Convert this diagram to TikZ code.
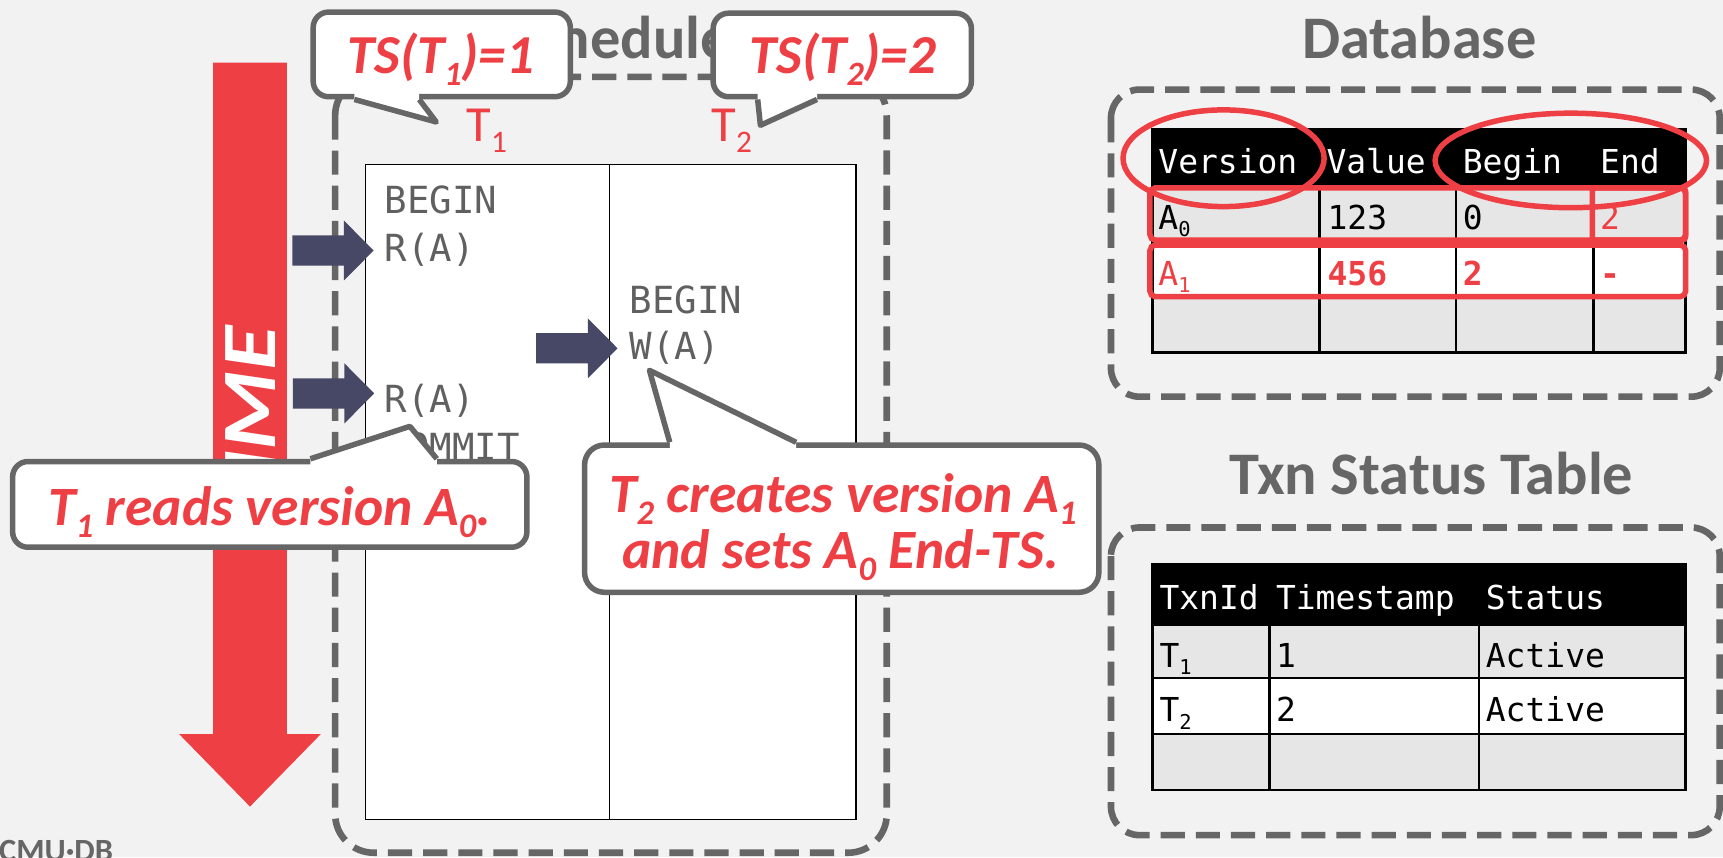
\documentclass[tikz,border=0pt]{standalone}
\usepackage{graphicx}
\usepackage{fontspec}
\setmainfont{Carlito}
\newfontfamily\codefont{DejaVu Sans Mono}
\usetikzlibrary{calc}

\definecolor{bg}{HTML}{F2F2F2}
\definecolor{cmured}{HTML}{EE3F44}
\definecolor{frame}{HTML}{666666}
\definecolor{navy}{HTML}{464866}
\definecolor{rowgray}{HTML}{E6E6E6}
\definecolor{opgray}{HTML}{606060}

% lowered, shrunken subscript
\newcommand\dsub[1]{\raisebox{-0.22em}{\scalebox{0.62}{#1}}}

\tikzset{
  dashbox/.style={draw=frame, line width=6, dash pattern=on 22 off 10},
  sectitle/.style={text=frame, font=\bfseries\fontsize{55}{60}\selectfont, inner sep=0, anchor=base},
  opline/.style={text=opgray, font=\codefont\fontsize{34}{40}\selectfont, inner sep=0, anchor=base west},
  dbcell/.style={font=\codefont\fontsize{30}{34}\selectfont, inner sep=0, anchor=base west},
  collabel/.style={text=cmured, font=\fontsize{46}{50}\selectfont, inner sep=0, anchor=base},
  callbox/.style={draw=frame, line width=5, fill=white, rounded corners=14, inner sep=0},
  calltext/.style={text=cmured, font=\bfseries\itshape\fontsize{50.5}{54}\selectfont, inner sep=0, anchor=base},
  tstext/.style={calltext, font=\bfseries\itshape\fontsize{50}{54}\selectfont},
  callline/.style={draw=frame, line width=5, line join=round},
  redhl/.style={draw=cmured, line width=5},
  gridline/.style={draw=black, line width=2.5},
  colbox/.style={draw=black, line width=1.5, fill=white, inner sep=0, anchor=north west, minimum height=596},
  blockarrow/.pic={\fill[navy] (-74,-13.75) -- (-27,-13.75) -- (-27,-27.25) -- (0,0)
      -- (-27,27.25) -- (-27,13.75) -- (-74,13.75) -- cycle;}
}

\begin{document}
\begin{tikzpicture}[x=1pt, y=-1pt]
\useasboundingbox (0,0) rectangle (1568,780);
\clip (0,0) rectangle (1568,780);
\fill[bg] (0,0) rectangle (1568,780);

% ---------- time axis ----------
\fill[cmured] (194,57) -- (261,57) -- (261,668) -- (292,668) -- (227.5,734)
  -- (163,668) -- (194,668) -- cycle;
\node[rotate=90, anchor=base, inner sep=0, text=white,
      font=\bfseries\itshape\fontsize{70}{74}\selectfont] (timelabel) at (251,385)
      {\scalebox{1.18}[1]{TIME}};

% ---------- schedule ----------
\node[sectitle] (schedtitle) at (562,53) {Schedule};
\draw[dashbox, rounded corners=35] (305,70) rectangle (807,776);
\node[colbox, minimum width=222] (col1) at (332,149) {};
\node[colbox, minimum width=224] (col2) at (554,149) {};
\node[collabel] (t1lab) at (443,129) {T\dsub{1}};
\node[collabel] (t2lab) at (666,129) {T\dsub{2}};

\node[opline] (b1) at (350,194) {BEGIN};
\node[opline] (r1) at (350,238) {R(A)};
\node[opline] (b2) at (573,285) {BEGIN};
\node[opline] (w2) at (573,327) {W(A)};
\node[opline] (r1b) at (350,375) {R(A)};
\node[opline] (c1) at (350,419) {COMMIT};

\pic at (340,228) {blockarrow};
\pic at (340.5,358) {blockarrow};
\pic at (562,317) {blockarrow};

% ---------- database ----------
\node[sectitle] (dbtitle) at (1291.5,53) {Database};
\draw[dashbox, rounded corners=26] (1011,81.5) rectangle (1565,361);
\fill[black] (1048.5,118) rectangle (1534,167);
\fill[rowgray] (1048.5,167) rectangle (1534,218);
\fill[white] (1048.5,218) rectangle (1534,269);
\fill[rowgray] (1048.5,269) rectangle (1534,321);
\draw[gridline] (1048.5,118) rectangle (1534,321);
\foreach \yy in {167,218,269} \draw[gridline] (1048.5,\yy) -- (1534,\yy);
\foreach \xx in {1201,1325,1450} \draw[gridline] (\xx,167) -- (\xx,321);

\node[dbcell, text=white] (hver) at (1054,158) {Version};
\node[dbcell, text=white] (hval) at (1207,158) {Value};
\node[dbcell, text=white] (hbeg) at (1331,158) {Begin};
\node[dbcell, text=white] (hend) at (1456,158) {End};

\node[dbcell] (a0) at (1054,209) {A\dsub{0}};
\node[dbcell] (a0val) at (1208,209) {123};
\node[dbcell] (a0beg) at (1331,209) {0};
\node[dbcell, text=cmured] (a0end) at (1456,209) {2};

\node[dbcell, text=cmured] (a1) at (1054,260) {A\dsub{1}};
\node[dbcell, text=cmured, font=\codefont\bfseries\fontsize{30}{34}\selectfont] (a1val) at (1208,260) {456};
\node[dbcell, text=cmured, font=\codefont\bfseries\fontsize{30}{34}\selectfont] (a1beg) at (1331,260) {2};
\node[dbcell, text=cmured, font=\codefont\bfseries\fontsize{30}{34}\selectfont] (a1end) at (1456,260) {-};

\draw[redhl] (1113.5,144) ellipse [x radius=91.5, y radius=44];
\draw[redhl] (1429.5,146) ellipse [x radius=123.5, y radius=43];
\draw[redhl, rounded corners=5] (1046.5,171) rectangle (1534,218.5);
\draw[redhl, rounded corners=5] (1046.5,223) rectangle (1534,270);
\draw[redhl, rounded corners=3] (1449,171) rectangle (1534,218.5);

% ---------- transaction status table ----------
\node[sectitle] (txntitle) at (1302.5,450) {Txn Status Table};
\draw[dashbox, rounded corners=26] (1011,480) rectangle (1565,760);
\fill[black] (1048.5,514) rectangle (1534,568);
\fill[rowgray] (1048.5,568) rectangle (1534,617);
\fill[white] (1048.5,617) rectangle (1534,668);
\fill[rowgray] (1048.5,668) rectangle (1534,719);
\draw[gridline] (1048.5,514) rectangle (1534,719);
\foreach \yy in {568,617,668} \draw[gridline] (1048.5,\yy) -- (1534,\yy);
\foreach \xx in {1155,1346} \draw[gridline] (\xx,568) -- (\xx,719);

\node[dbcell, text=white] (htid) at (1055,555) {TxnId};
\node[dbcell, text=white] (hts) at (1161,555) {Timestamp};
\node[dbcell, text=white] (hst) at (1352,555) {Status};
\node[dbcell] (tx1) at (1055,607) {T\dsub{1}};
\node[dbcell] (tx1ts) at (1161,607) {1};
\node[dbcell] (tx1st) at (1352,607) {Active};
\node[dbcell] (tx2) at (1055,657) {T\dsub{2}};
\node[dbcell] (tx2ts) at (1161,657) {2};
\node[dbcell] (tx2st) at (1352,657) {Active};

% ---------- logo ----------
\node[text=frame, font=\bfseries\fontsize{29.5}{31}\selectfont, anchor=base west, inner sep=0]
  (logo) at (-1,784) {CMU·DB};

% ---------- callouts ----------
% TS(T1)=1
\node[callbox, minimum width=234, minimum height=77] (ts1box) at (402,49.5) {};
\coordinate (ts1a) at ($(ts1box.south west)+(40,0)$);
\coordinate (ts1b) at ($(ts1box.south west)+(99,0)$);
\coordinate (ts1tip) at (397,111);
\fill[white] (ts1a) -- (ts1tip) -- (ts1b) -- ($(ts1b)+(0,-6)$) -- ($(ts1a)+(0,-6)$) -- cycle;
\draw[callline] (ts1a) -- (ts1tip) -- (ts1b);
\node[tstext] (ts1) at (401,67) {TS(T\dsub{1})=1};

% TS(T2)=2
\node[callbox, minimum width=235, minimum height=76] (ts2box) at (766.5,50) {};
\coordinate (ts2a) at ($(ts2box.south west)+(43,0)$);
\coordinate (ts2b) at ($(ts2box.south west)+(97,0)$);
\coordinate (ts2tip) at (692,114);
\fill[white] (ts2a) -- (ts2tip) -- (ts2b) -- ($(ts2b)+(0,-6)$) -- ($(ts2a)+(0,-6)$) -- cycle;
\draw[callline] (ts2a) -- (ts2tip) -- (ts2b);
\node[tstext] (ts2) at (767,67) {TS(T\dsub{2})=2};

% T1 reads version A0
\node[callbox, minimum width=468, minimum height=78] (rdbox) at (245.5,459) {};
\coordinate (rda) at ($(rdbox.north west)+(273.5,0)$);
\coordinate (rdb) at ($(rdbox.north west)+(388.5,0)$);
\coordinate (rdtip) at (373,388);
\fill[white] (rda) -- (rdtip) -- (rdb) -- ($(rdb)+(0,6)$) -- ($(rda)+(0,6)$) -- cycle;
\draw[callline] (rda) -- (rdtip) -- (rdb);
\node[calltext] (rdtext) at (245.5,478) {T\dsub{1} reads version A\dsub{0}.};

% T2 creates version A1
\node[callbox, rounded corners=18, minimum width=468, minimum height=134] (crbox) at (766,472) {};
\coordinate (cra) at ($(crbox.north west)+(80,0)$);
\coordinate (crb) at ($(crbox.north west)+(195,0)$);
\coordinate (crtip) at (591,337);
\fill[white] (cra) -- (crtip) -- (crb) -- ($(crb)+(0,6)$) -- ($(cra)+(0,6)$) -- cycle;
\draw[callline] (cra) -- (crtip) -- (crb);
\node[calltext] (crtext1) at (767,466) {T\dsub{2} creates version A\dsub{1}};
\node[calltext] (crtext2) at (765,517) {and sets A\dsub{0} End-TS.};
\end{tikzpicture}
\end{document}
